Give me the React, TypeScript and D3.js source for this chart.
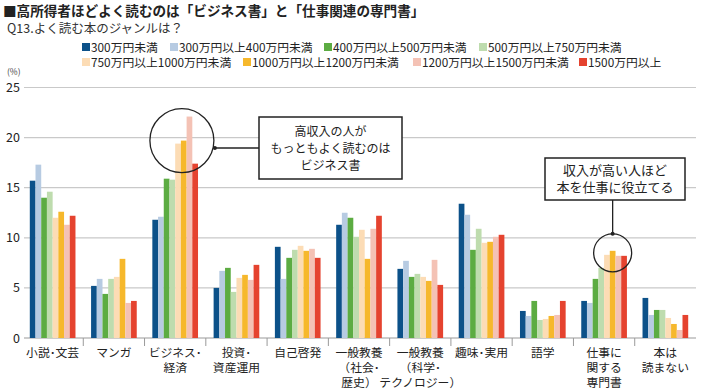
import { scaleBand, scaleLinear, range } from 'd3'

const categories = [
    '小説･文芸',
    'マンガ',
    'ビジネス･\n経済',
    '投資･\n資産運用',
    '自己啓発',
    '一般教養\n（社会･\n歴史）',
    '一般教養\n（科学･\nテクノロジー）',
    '趣味･実用',
    '語学',
    '仕事に\n関する\n専門書',
    '本は\n読まない'
]

const seriesNames = [
    '300万円未満',
    '300万円以上400万円未満',
    '400万円以上500万円未満',
    '500万円以上750万円未満',
    '750万円以上1000万円未満',
    '1000万円以上1200万円未満',
    '1200万円以上1500万円未満',
    '1500万円以上'
]

const under300 = [15.7, 5.2, 11.8, 5.0, 9.1, 11.3, 6.9, 13.4, 2.7, 3.7, 4.0]
const from300to400 = [17.3, 5.9, 12.1, 6.7, 5.9, 12.5, 7.7, 12.3, 2.2, 3.5, 2.3]
const from400to500 = [14.0, 4.4, 15.9, 7.0, 8.0, 12.0, 6.1, 8.8, 3.7, 5.9, 2.8]
const from500to750 = [14.6, 5.9, 15.8, 4.6, 8.8, 10.1, 6.4, 10.9, 1.8, 7.0, 2.8]
const from750to1000 = [12.0, 6.1, 19.4, 6.0, 9.2, 10.8, 6.1, 9.5, 1.9, 8.3, 2.0]
const from1000to1200 = [12.6, 7.9, 19.7, 6.3, 8.7, 7.9, 5.7, 9.6, 2.2, 8.7, 1.4]
const from1200to1500 = [11.3, 3.5, 22.1, 5.8, 8.9, 10.9, 7.8, 10.1, 2.3, 8.2, 0.8]
const over1500 = [12.2, 3.7, 17.4, 7.3, 8.0, 12.2, 5.3, 10.3, 3.7, 8.2, 2.3]

const series = [under300, from300to400, from400to500, from500to750, from750to1000, from1000to1200, from1200to1500, over1500]
const colors = ['#0c5189', '#b7cbe2', '#5cac42', '#bedcae', '#fcdcb5', '#f6b82c', '#f4c2b5', '#e5432f']

const yTicks = [0, 5, 10, 15, 20, 25]

const width = 710
const height = 392
const margin = { top: 87.5, right: 14, bottom: 54, left: 22 }
const font = '"Noto Sans CJK JP", "Noto Sans", sans-serif'

// legend slots (two rows of four)
const legendX = [82, 170, 324, 479, 82, 243, 413, 579]

export default function App() {
    const x0 = scaleBand<string>()
        .domain(categories)
        .range([margin.left, width - margin.right])
    const x1 = scaleBand<number>()
        .domain(range(series.length))
        .range([7.8, x0.bandwidth() - 7.8])
    const y = scaleLinear()
        .domain([0, 25])
        .range([height - margin.bottom, margin.top])

    const bx = (ci: number, si: number) => x0(categories[ci])! + x1(si)!

    // annotation 1: around ビジネス・経済, high income bars
    const c1x = bx(2, 5) + 1
    const c1y = y(19.7)
    const c1r = 32
    const box1 = { x: 259, y: 117, w: 143, h: 62 }

    // annotation 2: around 仕事に関する専門書
    const c2x = bx(9, 5) + x1.bandwidth() / 2
    const c2y = y(8.5)
    const c2r = 19
    const box2 = { x: 545, y: 158, w: 140, h: 42 }

    return (
        <svg width={width} height={height} style={{ position: 'absolute', left: 0, top: 0, background: '#fff' }} fontFamily={font}>
            <text x={3} y={16} fontSize={13.6} fontWeight={700} fill="#222">■高所得者ほどよく読むのは「ビジネス書」と「仕事関連の専門書」</text>
            <text x={7} y={33} fontSize={12.5} fill="#333">Q13.よく読む本のジャンルは？</text>

            {seriesNames.map((n, i) => (
                <g key={n} transform={`translate(${legendX[i]},${i < 4 ? 47 : 62})`}>
                    <rect x={0} y={-4} width={8} height={8} fill={colors[i]} />
                    <text x={9} y={4.5} fontSize={11.8} fill="#222">{n}</text>
                </g>
            ))}

            <text x={7} y={75} fontSize={8.5} fill="#444">(%)</text>
            {yTicks.map(t => (
                <g key={t}>
                    <line x1={24} x2={width - margin.right} y1={y(t)} y2={y(t)}
                        stroke={t === 0 ? '#9a9a9a' : '#c9c9c9'} strokeWidth={1.2} />
                    <text x={20} y={y(t) + 4.5} textAnchor="end" fontSize={12.5} fill="#222">{t}</text>
                </g>
            ))}

            {categories.slice(1).map(c => (
                <line key={c} x1={x0(c)!} x2={x0(c)!} y1={y(0)} y2={y(0) + 8} stroke="#9a9a9a" />
            ))}

            {series.map((vals, si) => (
                <g key={si} fill={colors[si]}>
                    {vals.map((v, ci) => (
                        <rect key={ci} x={bx(ci, si)} width={x1.bandwidth()} y={y(v)} height={y(0) - y(v)} />
                    ))}
                </g>
            ))}

            {categories.map(c => c.split('\n').map((l, i) => (
                <text key={c + i} x={x0(c)! + x0.bandwidth() / 2} y={357 + i * 15}
                    fontSize={11.8} fill="#222" textAnchor="middle">{l}</text>
            )))}

            <circle cx={c1x} cy={c1y} r={c1r} fill="none" stroke="#222" strokeWidth={1.3} />
            <line x1={c1x + c1r} x2={box1.x} y1={148} y2={148} stroke="#222" strokeWidth={1.3} />
            <circle cx={c1x + c1r + 1} cy={148} r={2} fill="#222" />
            <rect x={box1.x} y={box1.y} width={box1.w} height={box1.h} fill="#fff" stroke="#222" strokeWidth={1.5} />
            {['高収入の人が', 'もっともよく読むのは', 'ビジネス書'].map((l, i) => (
                <text key={l} x={box1.x + box1.w / 2} y={box1.y + 19 + i * 17} textAnchor="middle" fontSize={12} fill="#222">{l}</text>
            ))}

            <circle cx={c2x} cy={c2y} r={c2r} fill="none" stroke="#222" strokeWidth={1.3} />
            <line x1={c2x} x2={c2x} y1={box2.y + box2.h} y2={c2y - c2r} stroke="#222" strokeWidth={1.3} />
            <circle cx={c2x} cy={c2y - c2r} r={2} fill="#222" />
            <rect x={box2.x} y={box2.y} width={box2.w} height={box2.h} fill="#fff" stroke="#222" strokeWidth={1.5} />
            {['収入が高い人ほど', '本を仕事に役立てる'].map((l, i) => (
                <text key={l} x={box2.x + box2.w / 2} y={box2.y + 17 + i * 17} textAnchor="middle" fontSize={13} fill="#222">{l}</text>
            ))}
        </svg>
    )
}
